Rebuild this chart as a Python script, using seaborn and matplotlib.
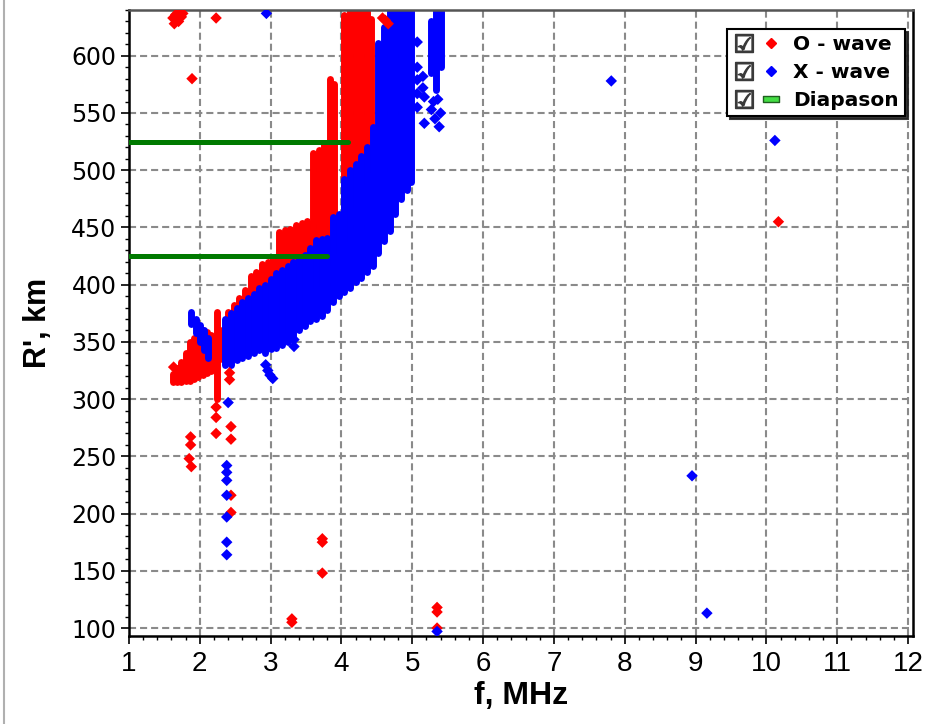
import matplotlib
matplotlib.use("Agg")
import matplotlib.pyplot as plt
from matplotlib.lines import Line2D
from matplotlib.legend_handler import HandlerTuple
from matplotlib.path import Path
from matplotlib.ticker import MultipleLocator
import pandas as pd
import seaborn as sns

# Dense echo traces, read column by column: frequency [MHz], lowest / highest R' [km]
O_COL_F = [1.62, 1.68, 1.74, 1.80, 1.86, 1.92, 1.98, 2.04, 2.10, 2.16, 2.24, 2.31,
           2.40, 2.48, 2.56, 2.64, 2.72, 2.80, 2.88, 2.96, 3.04, 3.12, 3.20, 3.28,
           3.36, 3.44, 3.52, 3.60, 3.68, 3.76, 3.84, 3.90, 4.04, 4.12, 4.20, 4.28,
           4.36, 4.42]
O_COL_LO = [315, 315, 315, 316, 316, 318, 319, 321, 323, 325, 300, 335,
            335, 340, 342, 345, 348, 350, 352, 352, 355, 357, 360, 365,
            370, 375, 378, 400, 405, 410, 420, 430, 440, 470, 480, 490,
            500, 520]
O_COL_HI = [322, 327, 332, 340, 350, 353, 357, 360, 359, 356, 376, 360,
            376, 382, 388, 395, 408, 411, 418, 420, 424, 446, 448, 449,
            452, 454, 456, 515, 518, 524, 580, 575, 636, 640, 640, 640,
            640, 632]

X_COL_F = [1.88, 1.94, 2.00, 2.06, 2.12,
           2.36, 2.44, 2.52, 2.60, 2.68, 2.76, 2.84, 2.92, 3.00, 3.08, 3.16,
           3.24, 3.32, 3.40, 3.48, 3.56, 3.64, 3.72, 3.80, 3.88, 3.96, 4.04,
           4.12, 4.20, 4.28, 4.36, 4.44, 4.52, 4.60, 4.68, 4.76, 4.84, 4.92,
           4.98, 5.26, 5.34, 5.40]
X_COL_LO = [366, 358, 350, 343, 336,
            330, 330, 334, 336, 338, 340, 343, 340, 344, 345, 347,
            350, 355, 360, 364, 368, 370, 373, 378, 385, 390, 394,
            397, 402, 406, 411, 416, 428, 438, 447, 462, 475, 483,
            490, 585, 570, 590]
X_COL_HI = [376, 370, 365, 360, 353,
            370, 375, 380, 385, 388, 392, 397, 400, 405, 410, 413,
            416, 420, 423, 426, 432, 439, 440, 441, 459, 462, 492,
            500, 505, 512, 520, 538, 611, 625, 640, 640, 640, 640,
            640, 630, 640, 640]

# Isolated echoes
O_PTS_F = [1.62, 1.66, 1.70, 1.74, 1.64, 1.70, 1.76, 1.89, 2.23, 2.23, 2.23, 2.23,
           2.44, 2.44, 2.44, 2.44, 1.87, 1.87, 1.85, 1.88, 3.73, 3.73, 3.73, 3.30,
           3.30, 5.35, 5.35, 5.35, 10.17, 2.42, 2.42, 1.63, 4.62, 4.66, 4.58]
O_PTS_R = [633, 636, 638, 634, 628, 630, 637, 580, 633, 293, 284, 270,
           276, 265, 216, 201, 267, 260, 248, 241, 178, 175, 148, 108,
           105, 118, 114, 100, 455, 323, 317, 328, 631, 628, 633]

X_PTS_F = [2.38, 2.38, 2.38, 2.38, 2.38, 2.38, 2.38, 2.40, 2.94, 2.93, 2.96, 2.99,
           3.03, 3.33, 3.33, 5.07, 5.07, 5.07, 5.07, 5.07, 5.15, 5.15, 5.17, 5.17,
           5.27, 5.32, 5.38, 5.40, 5.35, 7.81, 8.95, 9.16, 10.12, 5.30, 5.36]
X_PTS_R = [242, 236, 229, 216, 197, 175, 164, 297, 637, 330, 325, 321,
           318, 352, 346, 612, 590, 579, 567, 555, 582, 572, 564, 541,
           553, 545, 538, 550, 97, 578, 233, 113, 526, 560, 562]

# Diapason marks: level [km] and the frequency where each stops [MHz]
DIAPASON_R = [425, 525]
DIAPASON_F_END = [3.80, 4.09]

LEGEND_LABELS = ['O - wave', 'X - wave', 'Diapason']

sns.set_style("white")
plt.rcParams['font.family'] = ['DejaVu Sans']
plt.rcParams.update({'text.color': 'black', 'axes.labelcolor': 'black',
                     'xtick.color': 'black', 'ytick.color': 'black'})

fig = plt.figure(figsize=(9.32, 7.24), dpi=100)
ax = fig.add_axes([0.1384, 0.1215, 0.8412, 0.8647])

ax.vlines(O_COL_F, O_COL_LO, O_COL_HI, colors='#ff0000', linewidth=5,
          capstyle='round', zorder=2)
ax.vlines(X_COL_F, X_COL_LO, X_COL_HI, colors='#0000ff', linewidth=5,
          capstyle='round', zorder=2.1)

pts = pd.DataFrame({
    'f': O_PTS_F + X_PTS_F,
    'R': O_PTS_R + X_PTS_R,
    'wave': ['O'] * len(O_PTS_F) + ['X'] * len(X_PTS_F),
})
sns.scatterplot(data=pts, x='f', y='R', hue='wave',
                palette={'O': '#ff0000', 'X': '#0000ff'}, marker='D', s=34,
                linewidth=0, legend=False, ax=ax, zorder=3)

ax.hlines(DIAPASON_R, 1.0, DIAPASON_F_END, colors='#007a00', linewidth=3.6,
          capstyle='round', zorder=4)

ax.set_xlim(1, 12.07)
ax.set_ylim(93, 640)
ax.xaxis.set_major_locator(MultipleLocator(1))
ax.xaxis.set_minor_locator(MultipleLocator(0.2))
ax.yaxis.set_major_locator(MultipleLocator(50))
ax.yaxis.set_minor_locator(MultipleLocator(10))

ax.set_axisbelow(True)
ax.grid(True, which='major', color='#8a8a8a', linestyle=(0, (3.4, 1.9)), linewidth=1.5)

ax.tick_params(which='both', direction='out', bottom=True, left=True, color='black')
ax.tick_params(which='major', length=6, width=1.2)
ax.tick_params(which='minor', length=3, width=1)
ax.tick_params(axis='y', labelsize=17, pad=3)
ax.tick_params(axis='x', labelsize=20, pad=5,
               labelfontfamily=['Liberation Sans', 'DejaVu Sans'])

for side in ['left', 'bottom', 'right']:
    ax.spines[side].set_color('black')
    ax.spines[side].set_linewidth(1.8)
ax.spines['top'].set_color('#555555')
ax.spines['top'].set_linewidth(1.8)

ax.set_xlabel('f, MHz', fontsize=23, fontweight='bold', labelpad=3,
              family=['Liberation Sans', 'DejaVu Sans'])
ax.set_ylabel("R', km", fontsize=22, fontweight='bold', labelpad=13,
              family=['Liberation Sans', 'DejaVu Sans'])

# legend: checkbox + marker in each row
check = Line2D([], [], linestyle='none', marker='$\u2611$', markersize=13, color='#3a3a3a')
o_h = Line2D([], [], linestyle='none', marker='D', markersize=5, color='#ff0000')
x_h = Line2D([], [], linestyle='none', marker='D', markersize=5, color='#0000ff')
bar = Path([(-1, -0.33), (1, -0.33), (1, 0.33), (-1, 0.33), (-1, -0.33)], closed=True)
d_h = Line2D([], [], linestyle='none', marker=bar, markersize=11,
             markerfacecolor='#44dd44', markeredgecolor='#1f5f1f', markeredgewidth=1)

leg = ax.legend([(check, o_h), (check, x_h), (check, d_h)], LEGEND_LABELS,
                handler_map={tuple: HandlerTuple(ndivide=None, pad=0.3)},
                loc='upper right', bbox_to_anchor=(0.990, 0.970), borderaxespad=0,
                frameon=True, fancybox=False, framealpha=1, edgecolor='black',
                shadow={'facecolor': '#222222', 'edgecolor': '#222222', 'alpha': 0.9},
                prop={'weight': 'bold', 'size': 14.5},
                handlelength=2.4, handletextpad=0.6, borderpad=0.3, labelspacing=0.45)
leg.get_frame().set_linewidth(1.5)
leg.set_zorder(10)

fig.add_artist(Line2D([0.004, 0.004], [0, 1], transform=fig.transFigure,
                      color='#b0b0b0', linewidth=1.5))

fig.savefig('out.png', dpi=100)
